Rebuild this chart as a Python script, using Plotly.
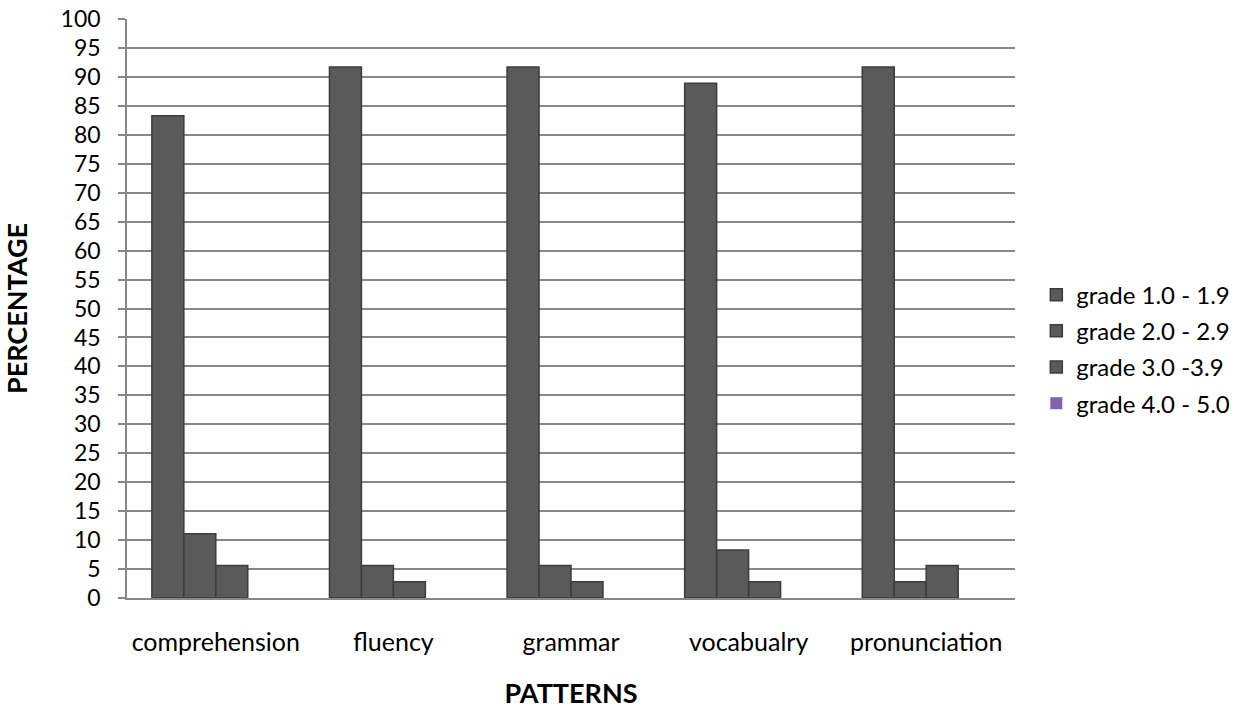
import plotly.graph_objects as go

categories = ["comprehension", "fluency", "grammar", "vocabualry", "pronunciation"]
series_names = ["grade 1.0 - 1.9", "grade 2.0 - 2.9", "grade 3.0 -3.9", "grade 4.0 - 5.0"]
grade_1 = [83.3, 91.7, 91.7, 88.9, 91.7]
grade_2 = [11.1, 5.6, 5.6, 8.3, 2.8]
grade_3 = [5.6, 2.8, 2.8, 2.8, 5.6]
grade_4 = [0, 0, 0, 0, 0]
series_values = [grade_1, grade_2, grade_3, grade_4]
colors = ["#5a5a5a", "#5a5a5a", "#5a5a5a", "#7f62b0"]
outlines = ["#3c3c3c", "#3c3c3c", "#3c3c3c", "#7f62b0"]
outline_w = [1.5, 1.5, 1.5, 0]
y_ticks = list(range(0, 101, 5))

FONT = "Lato"

fig = go.Figure()
for name, vals, c, o, w in zip(series_names, series_values, colors, outlines, outline_w):
    fig.add_trace(go.Bar(
        x=categories, y=vals, name=name, legendgroup=name,
        marker=dict(color=c, line=dict(color=o, width=w)),
    ))

fig.update_layout(
    width=1248, height=709,
    margin=dict(l=127, r=233, t=19, b=111),
    paper_bgcolor="white", plot_bgcolor="white",
    barmode="group", bargap=0.28, bargroupgap=0,
    font=dict(family=FONT, size=23, color="black"),
    legend=dict(x=1.024, xanchor="left", y=0.43, yanchor="middle",
                font=dict(family=FONT, size=24), tracegroupgap=2,
                itemwidth=30),
    showlegend=True,
)
fig.update_yaxes(
    range=[0, 100], tickvals=y_ticks, ticktext=[str(v) for v in y_ticks],
    automargin=False, ticklabeloverflow="allow",
    showgrid=True, gridcolor="#878787", gridwidth=1.5,
    showline=True, linecolor="#878787", linewidth=1.5,
    ticks="outside", ticklen=7, tickcolor="#878787", tickwidth=1.5,
    ticklabelstandoff=13, tickfont=dict(family=FONT, size=23),
    zeroline=False,
    title=dict(text="<b>PERCENTAGE</b>", font=dict(family=FONT, size=27), standoff=25),
)
fig.update_xaxes(
    automargin=False, ticklabeloverflow="allow",
    showline=True, linecolor="#878787", linewidth=1.5,
    ticks="", showgrid=False, ticklabelstandoff=21,
    tickfont=dict(family=FONT, size=25),
    title=dict(text="<b>PATTERNS</b>", font=dict(family=FONT, size=27), standoff=30),
)

fig.write_html("out.html", config={"displayModeBar": False},
               post_script="document.body.style.margin='0';")
